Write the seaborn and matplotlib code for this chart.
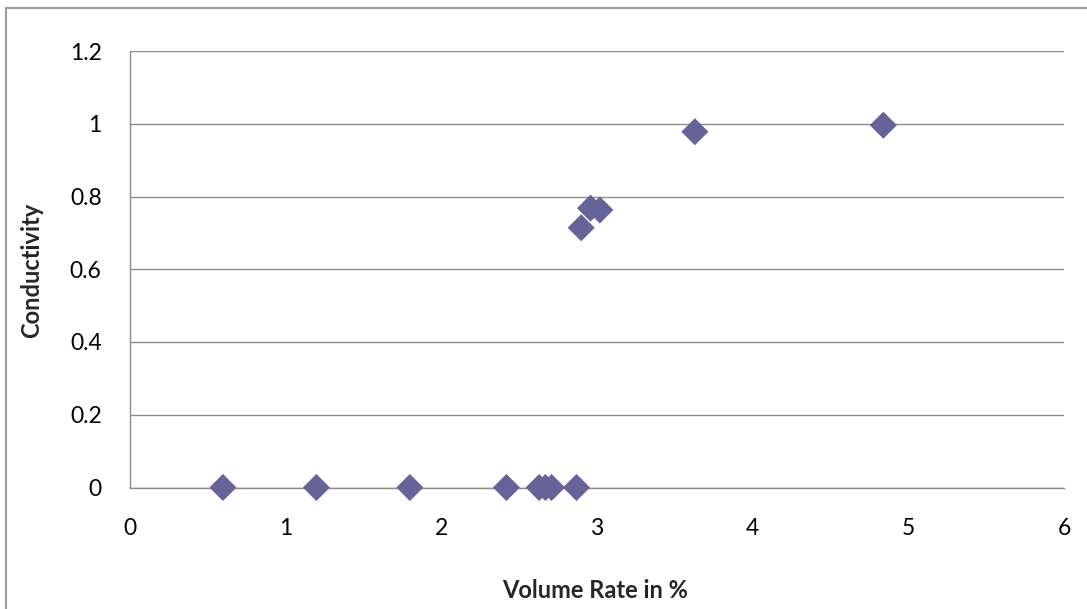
import matplotlib
matplotlib.use("Agg")
import matplotlib.pyplot as plt
import seaborn as sns
import pandas as pd
from matplotlib.patches import Rectangle

# Measured samples
volume_rate = [0.60, 1.20, 1.80, 2.42, 2.63, 2.67, 2.71, 2.87,
               2.90, 2.96, 3.02, 3.63, 4.84]
conductivity = [0.0, 0.0, 0.0, 0.0, 0.0, 0.0, 0.0, 0.0,
                0.714, 0.768, 0.763, 0.978, 0.996]

x_ticks = [0, 1, 2, 3, 4, 5, 6]
y_ticks = [0, 0.2, 0.4, 0.6, 0.8, 1.0, 1.2]
y_tick_labels = ["0", "0.2", "0.4", "0.6", "0.8", "1", "1.2"]

df = pd.DataFrame({"Volume Rate in %": volume_rate, "Conductivity": conductivity})

sns.set_theme(style="white")
plt.rcParams["font.family"] = ["Lato", "DejaVu Sans"]

fig = plt.figure(figsize=(10.87, 6.09), dpi=100)
ax = fig.add_axes([129.5 / 1087, 1 - 487.5 / 609, (1064 - 129.5) / 1087, (487.5 - 51) / 609])

# Outer chart frame
fig.patches.append(Rectangle((6 / 1087, -0.1), 1.2, 1 - 8 / 609 + 0.1,
                             transform=fig.transFigure, fill=False,
                             edgecolor="#9a9a9a", linewidth=1.5, zorder=0))

sns.scatterplot(data=df, x="Volume Rate in %", y="Conductivity", ax=ax,
                marker="D", s=190, color="#646499", edgecolor="none", zorder=3,
                clip_on=False)

ax.set_xlim(0, 6)
ax.set_ylim(0, 1.2)
ax.set_xticks(x_ticks)
ax.set_yticks(y_ticks)
ax.set_yticklabels(y_tick_labels)
ax.tick_params(axis="both", labelsize=16.5, length=0, colors="black")
ax.tick_params(axis="x", pad=22)
ax.tick_params(axis="y", pad=20)

ax.yaxis.grid(True, color="#8c8c8c", linewidth=1.0)
ax.xaxis.grid(False)
for side in ["top", "right"]:
    ax.spines[side].set_visible(False)
for side in ["left", "bottom"]:
    ax.spines[side].set_color("#8c8c8c")
    ax.spines[side].set_linewidth(1.0)

ax.set_xlabel("Volume Rate in %", fontsize=17, fontweight="bold", labelpad=0)
ax.set_ylabel("Conductivity", fontsize=17, fontweight="bold", labelpad=0)
ax.xaxis.set_label_coords((595 - 129.5) / (1064 - 129.5), -(591 - 487.5) / (487.5 - 51))
ax.yaxis.set_label_coords(-(129.5 - 32) / (1064 - 129.5), (487.5 - 270) / (487.5 - 51))
ax.xaxis.label.set_va("center")
ax.yaxis.label.set_va("center")

fig.savefig("out.png", dpi=100)
